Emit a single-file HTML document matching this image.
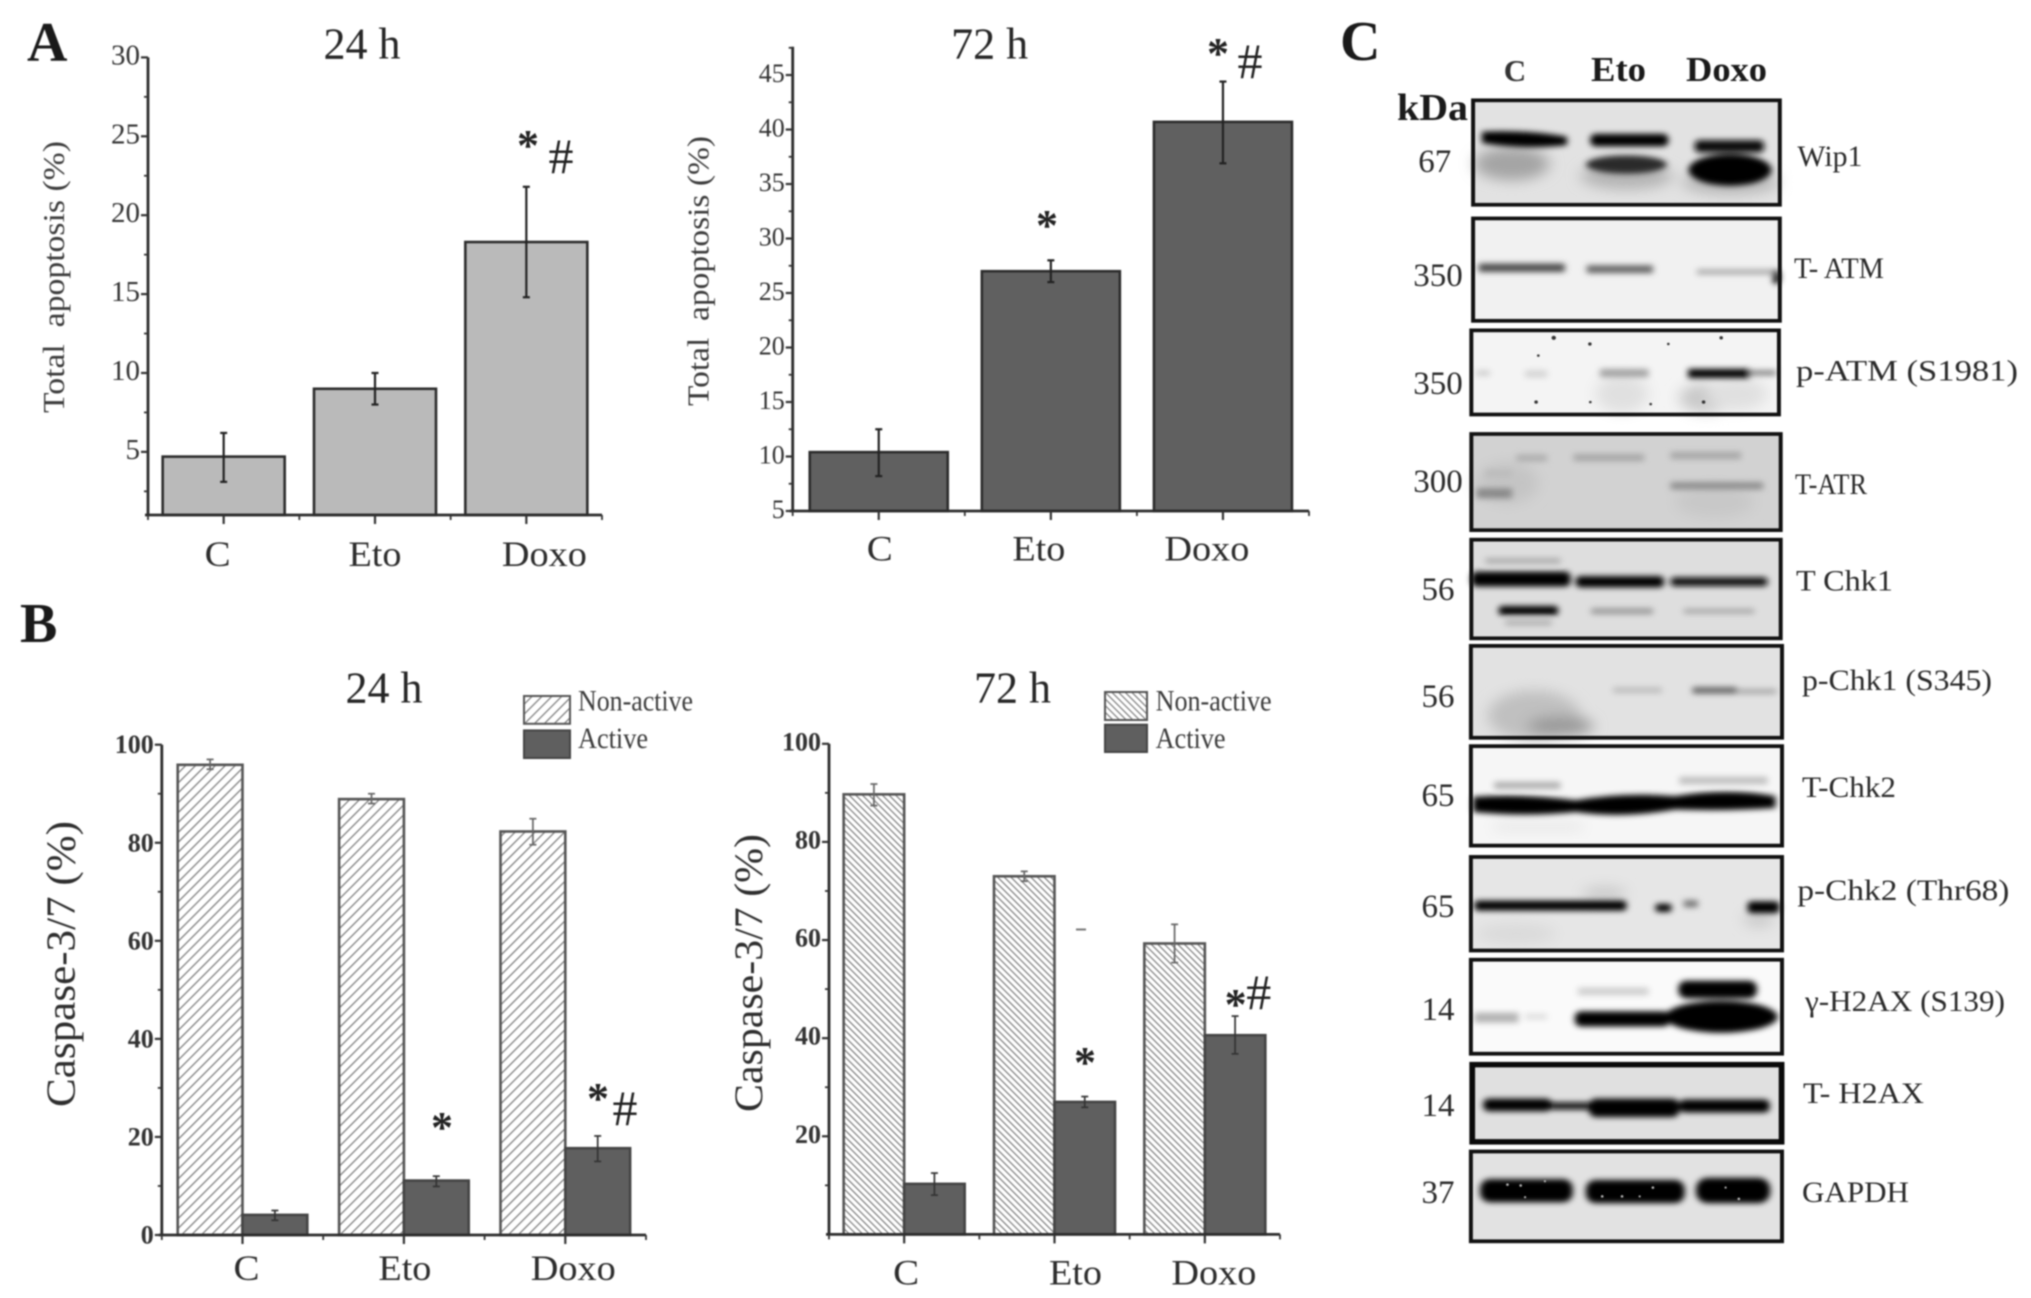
<!DOCTYPE html>
<html lang="en">
<head>
<meta charset="utf-8">
<title>Apoptosis, caspase-3/7 and western blot figure</title>
<style>
html,body{margin:0;padding:0;background:#fff;}
svg{display:block;filter:blur(0.7px);}
text{font-family:"Liberation Serif","DejaVu Serif",serif;fill:#262626;}
.blot-label{font-size:30px;fill:#2a2a2a;}
.kda{font-size:33px;fill:#2a2a2a;text-anchor:middle;}
</style>
</head>
<body>
<svg id="figure" xmlns="http://www.w3.org/2000/svg" width="2031" height="1298" viewBox="0 0 2031 1298">
<defs>
<pattern id="hatch-right" width="7" height="7" patternUnits="userSpaceOnUse" patternTransform="rotate(45)">
<rect width="7" height="7" fill="#fff"/><line x1="0" y1="0" x2="0" y2="7" stroke="#777" stroke-width="2.4"/>
</pattern>
<pattern id="hatch-left" width="4.7" height="4.7" patternUnits="userSpaceOnUse" patternTransform="rotate(-45)">
<rect width="4.7" height="4.7" fill="#fff"/><line x1="0" y1="0" x2="0" y2="4.7" stroke="#777" stroke-width="2.3"/>
</pattern>
<filter id="soft" x="-30%" y="-100%" width="160%" height="300%"><feGaussianBlur stdDeviation="7"/></filter>
<filter id="soft-wide" x="-50%" y="-100%" width="200%" height="300%"><feGaussianBlur stdDeviation="16"/></filter>
</defs>

<rect width="2031" height="1298" fill="#fff"/>

<text x="27" y="61" font-size="56" font-weight="bold" style="fill:#1a1a1a">A</text>
<text x="20" y="642" font-size="56" font-weight="bold" style="fill:#1a1a1a">B</text>
<text x="1340" y="60" font-size="56" font-weight="bold" style="fill:#1a1a1a">C</text>

<text x="362" y="58.5" font-size="44" text-anchor="middle">24 h</text>
<text x="989.6" y="58.5" font-size="44" text-anchor="middle">72 h</text>
<text x="384" y="702.4" font-size="44" text-anchor="middle">24 h</text>
<text x="1012.5" y="702.4" font-size="44" text-anchor="middle">72 h</text>

<text transform="translate(64,277) rotate(-90)" font-size="31" text-anchor="middle" textLength="272" lengthAdjust="spacingAndGlyphs" xml:space="preserve" style="fill:#3c3c3c">Total&#160; apoptosis (%)</text>
<text transform="translate(708.6,271) rotate(-90)" font-size="31" text-anchor="middle" textLength="270" lengthAdjust="spacingAndGlyphs" xml:space="preserve" style="fill:#3c3c3c">Total&#160; apoptosis (%)</text>
<text transform="translate(74.6,964) rotate(-90)" font-size="41" text-anchor="middle" textLength="286" lengthAdjust="spacingAndGlyphs" style="fill:#2e2e2e">Caspase-3/7 (%)</text>
<text transform="translate(762,973) rotate(-90)" font-size="40" text-anchor="middle" textLength="278" lengthAdjust="spacingAndGlyphs" style="fill:#2e2e2e">Caspase-3/7 (%)</text>

<g>
<rect x="524" y="696" width="46" height="27.8" fill="url(#hatch-right)" stroke="#555" stroke-width="2"/>
<rect x="524" y="730.4" width="46" height="27.6" fill="#5f5f5f" stroke="#444" stroke-width="2"/>
<text x="578" y="710.4" font-size="30" textLength="115" lengthAdjust="spacingAndGlyphs" style="fill:#3c3c3c">Non-active</text>
<text x="578" y="748" font-size="30" textLength="70" lengthAdjust="spacingAndGlyphs" style="fill:#3c3c3c">Active</text>
</g>
<g>
<rect x="1105" y="692" width="42" height="28" fill="url(#hatch-left)" stroke="#555" stroke-width="2"/>
<rect x="1105" y="724.7" width="42" height="27.3" fill="#5f5f5f" stroke="#444" stroke-width="2"/>
<text x="1155.6" y="710.4" font-size="30" textLength="116" lengthAdjust="spacingAndGlyphs" style="fill:#3c3c3c">Non-active</text>
<text x="1155.6" y="748" font-size="30" textLength="70" lengthAdjust="spacingAndGlyphs" style="fill:#3c3c3c">Active</text>
</g>

<g id="charts"></g>

<rect x="1076" y="928.5" width="10" height="2" fill="#777"/>

<!-- Western blot panels, upper half -->
<g transform="translate(1340,0) scale(.4407,.4145)">
  <g>
    <rect x="302" y="242" width="696" height="252" fill="#e2e2e2"/>
    <g filter="url(#soft-wide)"><ellipse cx="390" cy="395" rx="85" ry="40" fill="#a4a4a4"/><ellipse cx="650" cy="425" rx="105" ry="32" fill="#b4b4b4"/><ellipse cx="885" cy="440" rx="110" ry="30" fill="#b8b8b8"/></g>
    <g filter="url(#soft)">
      <path d="M322 318 Q420 312 515 330 L515 350 Q420 362 322 345 Z" fill="#000"/>
      <rect x="568" y="323" width="177" height="30" rx="12" fill="#000"/>
      <rect x="805" y="338" width="157" height="30" rx="10" fill="#0a0a0a"/>
      <ellipse cx="650" cy="397" rx="92" ry="22" fill="#2a2a2a"/>
      <ellipse cx="885" cy="410" rx="94" ry="38" fill="#000"/>
    </g>
    <rect x="302" y="242" width="696" height="252" fill="none" stroke="#111" stroke-width="9"/>
  </g>
  <g>
    <rect x="302" y="527" width="696" height="247" fill="#f1f1f1"/>
    <g filter="url(#soft)">
      <rect x="315" y="636" width="195" height="20" fill="#4a4a4a"/>
      <rect x="560" y="640" width="150" height="19" fill="#666"/>
      <rect x="810" y="649" width="180" height="14" fill="#b0b0b0"/>
      <ellipse cx="990" cy="668" rx="9" ry="18" fill="#000"/>
    </g>
    <rect x="302" y="527" width="696" height="247" fill="none" stroke="#111" stroke-width="9"/>
  </g>
  <g>
    <rect x="298" y="797" width="698" height="203" fill="#f4f4f4"/>
    <g filter="url(#soft-wide)"><ellipse cx="830" cy="960" rx="60" ry="36" fill="#c8c8c8"/><ellipse cx="640" cy="950" rx="60" ry="46" fill="#e0e0e0"/><ellipse cx="900" cy="950" rx="70" ry="40" fill="#e0e0e0"/></g>
    <g filter="url(#soft)">
      <rect x="420" y="893" width="50" height="18" fill="#d5d5d5"/>
      <rect x="310" y="893" width="30" height="14" fill="#d0d0d0"/>
      <rect x="590" y="890" width="110" height="20" fill="#a4a4a4"/>
      <rect x="790" y="890" width="140" height="22" fill="#000"/>
      <rect x="930" y="893" width="60" height="13" fill="#888"/>
    </g>
    <g fill="#333"><circle cx="485" cy="815" r="5"/><circle cx="567" cy="830" r="4"/><circle cx="745" cy="830" r="3"/><circle cx="865" cy="815" r="4"/><circle cx="450" cy="858" r="3"/><circle cx="445" cy="970" r="4"/><circle cx="568" cy="970" r="3"/><circle cx="825" cy="970" r="4"/><circle cx="705" cy="975" r="3"/></g>
    <rect x="298" y="797" width="698" height="203" fill="none" stroke="#111" stroke-width="9"/>
  </g>
  <g>
    <rect x="298" y="1047" width="702" height="232" fill="#d2d2d2"/>
    <g filter="url(#soft-wide)"><ellipse cx="380" cy="1165" rx="70" ry="50" fill="#c4c4c4"/><ellipse cx="850" cy="1210" rx="90" ry="40" fill="#c8c8c8"/></g>
    <g filter="url(#soft)">
      <rect x="400" y="1096" width="70" height="18" fill="#b0b0b0"/>
      <rect x="530" y="1095" width="160" height="18" fill="#a8a8a8"/>
      <rect x="750" y="1090" width="160" height="18" fill="#a8a8a8"/>
      <rect x="310" y="1178" width="80" height="24" fill="#8a8a8a"/>
      <rect x="750" y="1163" width="210" height="18" fill="#909090"/>
      <rect x="330" y="1133" width="60" height="18" fill="#bcbcbc"/>
    </g>
    <rect x="298" y="1047" width="702" height="232" fill="none" stroke="#111" stroke-width="9"/>
  </g>
  <g>
    <rect x="298" y="1302" width="702" height="238" fill="#dedede"/>
    <g filter="url(#soft)">
      <rect x="298" y="1379" width="225" height="36" rx="12" fill="#000"/>
      <rect x="535" y="1390" width="200" height="27" rx="10" fill="#000"/>
      <rect x="750" y="1393" width="220" height="21" rx="8" fill="#111"/>
      <rect x="360" y="1462" width="135" height="22" rx="8" fill="#000"/>
      <rect x="570" y="1467" width="140" height="15" fill="#9c9c9c"/>
      <rect x="780" y="1468" width="160" height="13" fill="#acacac"/>
      <rect x="330" y="1346" width="170" height="14" fill="#aeaeae"/>
      <rect x="375" y="1496" width="105" height="13" fill="#b0b0b0"/>
    </g>
    <rect x="298" y="1302" width="702" height="238" fill="none" stroke="#111" stroke-width="9"/>
  </g>
</g>

<!-- Western blot panels, lower half -->
<g transform="translate(1340,640) scale(.4407,.4196)">
  <g>
    <rect x="297" y="14" width="706" height="219" fill="#e2e2e2"/>
    <g filter="url(#soft-wide)">
      <ellipse cx="440" cy="180" rx="105" ry="60" fill="#c0c0c0"/>
      <ellipse cx="500" cy="205" rx="75" ry="24" fill="#9a9a9a"/>
    </g>
    <g filter="url(#soft)">
      <rect x="620" y="112" width="110" height="15" fill="#c0c0c0"/>
      <rect x="800" y="112" width="100" height="16" fill="#6a6a6a"/>
      <rect x="900" y="116" width="90" height="13" fill="#acacac"/>
    </g>
    <rect x="297" y="14" width="706" height="219" fill="none" stroke="#111" stroke-width="9"/>
  </g>
  <g>
    <rect x="297" y="253" width="706" height="237" fill="#f6f6f6"/>
    <g filter="url(#soft-wide)"><rect x="350" y="435" width="200" height="20" fill="#e6e6e6"/></g>
    <g filter="url(#soft)">
      <rect x="350" y="338" width="150" height="17" fill="#b0b0b0"/>
      <rect x="770" y="326" width="200" height="18" fill="#c0c0c0"/>
      <path d="M302 374 Q420 366 535 382 Q640 362 760 372 Q880 352 988 372 L988 400 Q880 408 760 404 Q640 426 535 410 Q420 422 302 410 Z" fill="#000"/>
    </g>
    <rect x="297" y="253" width="706" height="237" fill="none" stroke="#111" stroke-width="9"/>
  </g>
  <g>
    <rect x="297" y="517" width="706" height="223" fill="#e6e6e6"/>
    <g filter="url(#soft-wide)"><ellipse cx="600" cy="605" rx="50" ry="18" fill="#cacaca"/><ellipse cx="950" cy="665" rx="35" ry="20" fill="#cacaca"/><ellipse cx="400" cy="700" rx="90" ry="25" fill="#dadada"/></g>
    <g filter="url(#soft)">
      <rect x="305" y="621" width="345" height="24" rx="8" fill="#000"/>
      <rect x="716" y="629" width="36" height="19" rx="6" fill="#000"/>
      <rect x="780" y="620" width="32" height="17" fill="#777"/>
      <rect x="925" y="623" width="72" height="28" rx="8" fill="#000"/>
    </g>
    <rect x="297" y="517" width="706" height="223" fill="none" stroke="#111" stroke-width="9"/>
  </g>
  <g>
    <rect x="297" y="762" width="706" height="224" fill="#fafafa"/>
    <g filter="url(#soft)">
      <rect x="305" y="888" width="100" height="24" fill="#b4b4b4"/>
      <rect x="420" y="890" width="50" height="15" fill="#e0e0e0"/>
      <rect x="540" y="828" width="160" height="19" fill="#d0d0d0"/>
      <rect x="533" y="885" width="215" height="36" rx="14" fill="#000"/>
      <ellipse cx="865" cy="898" rx="128" ry="38" fill="#000"/>
      <rect x="768" y="812" width="178" height="42" rx="18" fill="#000"/>
    </g>
    <rect x="297" y="762" width="706" height="224" fill="none" stroke="#111" stroke-width="9"/>
  </g>
  <g>
    <rect x="300" y="1012" width="702" height="184" fill="#e0e0e0"/>
    <g filter="url(#soft)">
      <rect x="325" y="1093" width="155" height="30" rx="12" fill="#000"/>
      <rect x="480" y="1102" width="85" height="17" fill="#111"/>
      <rect x="565" y="1093" width="205" height="44" rx="16" fill="#000"/>
      <rect x="770" y="1095" width="205" height="31" rx="12" fill="#000"/>
    </g>
    <rect x="300" y="1012" width="702" height="184" fill="none" stroke="#0a0a0a" stroke-width="13"/>
  </g>
  <g>
    <rect x="297" y="1219" width="706" height="214" fill="#e2e2e2"/>
    <g filter="url(#soft)">
      <rect x="318" y="1285" width="210" height="55" rx="22" fill="#000"/>
      <rect x="558" y="1287" width="224" height="55" rx="22" fill="#000"/>
      <rect x="808" y="1282" width="168" height="60" rx="26" fill="#000"/>
    </g>
    <g fill="#bbb"><circle cx="380" cy="1298" r="3"/><circle cx="410" cy="1300" r="3"/><circle cx="465" cy="1290" r="2.5"/><circle cx="420" cy="1328" r="2.5"/><circle cx="595" cy="1326" r="3"/><circle cx="640" cy="1326" r="3"/><circle cx="710" cy="1305" r="3"/><circle cx="680" cy="1326" r="2.5"/><circle cx="875" cy="1305" r="2.5"/><circle cx="905" cy="1332" r="3"/></g>
    <rect x="297" y="1219" width="706" height="214" fill="none" stroke="#111" stroke-width="9"/>
  </g>
</g>

<g>
<text x="1515" y="81" font-size="31" font-weight="bold" text-anchor="middle" style="fill:#333">C</text>
<text x="1618.5" y="81" font-size="35" font-weight="bold" text-anchor="middle" textLength="55" lengthAdjust="spacingAndGlyphs" style="fill:#1a1a1a">Eto</text>
<text x="1726.5" y="81" font-size="35" font-weight="bold" text-anchor="middle" textLength="81" lengthAdjust="spacingAndGlyphs" style="fill:#1a1a1a">Doxo</text>
<text x="1397" y="120" font-size="38" font-weight="bold" textLength="71" lengthAdjust="spacingAndGlyphs" style="fill:#1a1a1a">kDa</text>
</g>

<g>
<text class="kda" x="1434.7" y="172">67</text>
<text class="kda" x="1438" y="286">350</text>
<text class="kda" x="1438" y="394">350</text>
<text class="kda" x="1438" y="492">300</text>
<text class="kda" x="1438" y="600">56</text>
<text class="kda" x="1438" y="707">56</text>
<text class="kda" x="1438" y="806">65</text>
<text class="kda" x="1438" y="917">65</text>
<text class="kda" x="1438" y="1020">14</text>
<text class="kda" x="1438" y="1116">14</text>
<text class="kda" x="1438" y="1203">37</text>
</g>

<g>
<text class="blot-label" x="1797.4" y="166" textLength="65" lengthAdjust="spacingAndGlyphs">Wip1</text>
<text class="blot-label" x="1794" y="278" textLength="90" lengthAdjust="spacingAndGlyphs">T- ATM</text>
<text class="blot-label" x="1796" y="380.5" textLength="222" lengthAdjust="spacingAndGlyphs">p-ATM (S1981)</text>
<text class="blot-label" x="1795" y="494" textLength="72" lengthAdjust="spacingAndGlyphs">T-ATR</text>
<text class="blot-label" x="1796" y="590.6" textLength="97" lengthAdjust="spacingAndGlyphs">T Chk1</text>
<text class="blot-label" x="1802" y="690" textLength="190" lengthAdjust="spacingAndGlyphs">p-Chk1 (S345)</text>
<text class="blot-label" x="1802" y="797" textLength="94" lengthAdjust="spacingAndGlyphs">T-Chk2</text>
<text class="blot-label" x="1797.4" y="900" textLength="212" lengthAdjust="spacingAndGlyphs">p-Chk2 (Thr68)</text>
<text class="blot-label" x="1805" y="1011" textLength="200" lengthAdjust="spacingAndGlyphs">γ-H2AX (S139)</text>
<text class="blot-label" x="1803" y="1103" textLength="121" lengthAdjust="spacingAndGlyphs">T- H2AX</text>
<text class="blot-label" x="1802" y="1202" textLength="107" lengthAdjust="spacingAndGlyphs">GAPDH</text>
</g>
</svg>

<script>
// ---- chart data ----
const categories = ['C', 'Eto', 'Doxo'];

const apoptosis24Values = [4.7, 9.0, 18.3];
const apoptosis24ErrLow = [3.1, 8.0, 14.8];
const apoptosis24ErrHigh = [6.2, 10.0, 21.8];
const apoptosis24Ticks = [5, 10, 15, 20, 25, 30];

const apoptosis72Values = [10.4, 27.0, 40.7];
const apoptosis72ErrLow = [8.2, 26.0, 36.9];
const apoptosis72ErrHigh = [12.5, 28.0, 44.4];
const apoptosis72Ticks = [5, 10, 15, 20, 25, 30, 35, 40, 45];

const caspase24NonActive = [95.9, 88.9, 82.3];
const caspase24NonActiveErrLow = [95.0, 88.0, 79.6];
const caspase24NonActiveErrHigh = [97.0, 90.0, 84.9];
const caspase24Active = [4.1, 11.1, 17.7];
const caspase24ActiveErrLow = [3.0, 9.9, 15.0];
const caspase24ActiveErrHigh = [5.0, 12.0, 20.2];
const caspase24Ticks = [0, 20, 40, 60, 80, 100];

const caspase72NonActive = [89.7, 73.0, 59.3];
const caspase72NonActiveErrLow = [87.4, 72.0, 55.4];
const caspase72NonActiveErrHigh = [91.8, 74.0, 63.2];
const caspase72Active = [10.3, 27.0, 40.6];
const caspase72ActiveErrLow = [8.0, 25.9, 36.8];
const caspase72ActiveErrHigh = [12.5, 28.1, 44.5];
const caspase72Ticks = [20, 40, 60, 80, 100];

// ---- helpers ----
const SVG_NS = 'http://www.w3.org/2000/svg';
const root = document.getElementById('charts');

function make(tag, name, parent, attrs) {
  const el = document.createElementNS(SVG_NS, tag);
  
  
  for (const k in attrs) el.setAttribute(k, attrs[k]);
  parent.appendChild(el);
  return el;
}
function line(name, parent, x1, y1, x2, y2, color, width) {
  return make('line', name, parent, { x1: x1, y1: y1, x2: x2, y2: y2, stroke: color, 'stroke-width': width });
}
function label(name, parent, x, y, str, attrs, color) {
  const el = make('text', name, parent, Object.assign({ x: x, y: y }, attrs));
  el.textContent = str;
  if (color) el.style.fill = color;
  return el;
}
function linearScale(d0, d1, r0, r1) {
  return function (v) { return r0 + (v - d0) * (r1 - r0) / (d1 - d0); };
}

function drawAxes(g, cfg, y) {
  const bottom = y(cfg.domain[0]);
  const top = y(cfg.domain[1]);
  line('y-axis-line', g, cfg.x0, top, cfg.x0, bottom + 1, '#2c2c2c', 2.8);
  line('x-axis-line', g, cfg.x0 - 3, bottom, cfg.x1, bottom, '#2c2c2c', 2.8);

  const step = cfg.ticks[1] - cfg.ticks[0];
  cfg.ticks.forEach(function (t) {
    line('y-tick-' + t, g, cfg.x0 - 7, y(t), cfg.x0, y(t), '#333', 2.2);
    label('y-tick-label-' + t, g, cfg.x0 - 8, y(t) + cfg.tickBaseline, String(t),
      { 'font-size': cfg.tickSize, 'font-weight': cfg.tickWeight, 'text-anchor': 'end' }, '#333');
  });
  for (let m = cfg.ticks[0] - step / 2; m <= cfg.domain[1]; m += step) {
    if (m < cfg.domain[0]) continue;
    line('y-minor-tick', g, cfg.x0 - 4, y(m), cfg.x0, y(m), '#333', 1.8);
  }

  const band = (cfg.x1 - cfg.x0) / categories.length;
  for (let i = 0; i <= categories.length; i++) {
    line('x-minor-tick', g, cfg.x0 + i * band, bottom, cfg.x0 + i * band, bottom + 5, '#333', 1.8);
  }
  categories.forEach(function (c, i) {
    const cx = cfg.x0 + (i + 0.5) * band;
    line('x-tick-' + c, g, cx, bottom, cx, bottom + 9, '#333', 2.2);
    label('x-tick-label-' + c, g, cx + cfg.labelDx[i], cfg.labelY, c,
      { 'font-size': cfg.labelSize, 'text-anchor': 'middle', textLength: cfg.labelLen[i], lengthAdjust: 'spacingAndGlyphs' }, '#2c2c2c');
  });
  return band;
}

function drawError(g, name, cx, y, lo, hi, color, width) {
  line(name + '-stem', g, cx, y(lo), cx, y(hi), color, width);
  line(name + '-cap-high', g, cx - 3.5, y(hi), cx + 3.5, y(hi), color, width);
  line(name + '-cap-low', g, cx - 3.5, y(lo), cx + 3.5, y(lo), color, width);
}

function drawBar(g, name, x, w, y, base, v, fill, stroke) {
  return make('rect', name, g, {
    x: x, y: y(v), width: w, height: y(base) - y(v),
    fill: fill, stroke: stroke, 'stroke-width': 2.6
  });
}

function drawMarks(g, marks) {
  marks.forEach(function (m) {
    const isStar = m.s === '*';
    label(isStar ? 'significance-asterisk' : 'significance-hash', g, m.x, m.y, m.s,
      { 'font-size': isStar ? 44 : 50, 'font-weight': isStar ? 'bold' : 'normal', 'text-anchor': 'middle' }, '#222');
  });
}

function singleSeriesChart(cfg, values, errLow, errHigh) {
  const g = make('g', cfg.name, root, {});
  const y = linearScale(cfg.domain[0], cfg.domain[1], cfg.yBottom, cfg.yTop);
  const band = (cfg.x1 - cfg.x0) / categories.length;
  values.forEach(function (v, i) {
    const cx = cfg.x0 + (i + 0.5) * band;
    drawBar(g, 'bar-' + categories[i], cx - cfg.barW / 2, cfg.barW, y, cfg.domain[0], v, cfg.fill, '#2c2c2c');
    drawError(g, 'error-bar-' + categories[i], cx, y, errLow[i], errHigh[i], '#222', 2.2);
  });
  drawAxes(g, cfg, y);
  drawMarks(g, cfg.marks);
}

function groupedChart(cfg, nonActive, naLow, naHigh, active, acLow, acHigh) {
  const g = make('g', cfg.name, root, {});
  const y = linearScale(cfg.domain[0], cfg.domain[1], cfg.yBottom, cfg.yTop);
  const band = (cfg.x1 - cfg.x0) / categories.length;
  categories.forEach(function (c, i) {
    const cx = cfg.x0 + (i + 0.5) * band;
    drawBar(g, 'bar-non-active-' + c, cx - cfg.barW, cfg.barW, y, cfg.domain[0], nonActive[i], cfg.hatch, '#555');
    drawBar(g, 'bar-active-' + c, cx, cfg.barW, y, cfg.domain[0], active[i], '#5f5f5f', '#444');
    drawError(g, 'error-bar-non-active-' + c, cx - cfg.barW / 2, y, naLow[i], naHigh[i], '#666', 1.7);
    drawError(g, 'error-bar-active-' + c, cx + cfg.barW / 2, y, acLow[i], acHigh[i], '#333', 1.7);
  });
  drawAxes(g, cfg, y);
  drawMarks(g, cfg.marks);
}

// ---- draw ----
singleSeriesChart({
  name: 'chart-a-24h', x0: 148, x1: 602, yBottom: 515, yTop: 57.4, domain: [1, 30], barW: 122,
  fill: '#bababa', ticks: apoptosis24Ticks, tickSize: 29, tickWeight: 'normal', tickBaseline: 7,
  labelDx: [-6, 0, 18], labelY: 566, labelSize: 36, labelLen: [26, 53, 85],
  marks: [{ s: '*', x: 528, y: 160 }, { s: '#', x: 561, y: 173 }]
}, apoptosis24Values, apoptosis24ErrLow, apoptosis24ErrHigh);

singleSeriesChart({
  name: 'chart-a-72h', x0: 792.7, x1: 1309, yBottom: 511, yTop: 46.7, domain: [5, 47.6], barW: 138,
  fill: '#606060', ticks: apoptosis72Ticks, tickSize: 26, tickWeight: 'normal', tickBaseline: 7,
  labelDx: [1, -12, -16], labelY: 560.6, labelSize: 36, labelLen: [26, 53, 85],
  marks: [{ s: '*', x: 1047, y: 240 }, { s: '*', x: 1218, y: 68 }, { s: '#', x: 1250, y: 78 }]
}, apoptosis72Values, apoptosis72ErrLow, apoptosis72ErrHigh);

groupedChart({
  name: 'chart-b-24h', x0: 161.8, x1: 646, yBottom: 1235, yTop: 744.7, domain: [0, 100], barW: 64.8,
  hatch: 'url(#hatch-right)', ticks: caspase24Ticks, tickSize: 26, tickWeight: 'bold', tickBaseline: 8.5,
  labelDx: [4, 1, 8], labelY: 1280, labelSize: 36, labelLen: [26, 53, 85],
  marks: [{ s: '*', x: 442, y: 1142 }, { s: '*', x: 598, y: 1113 }, { s: '#', x: 625, y: 1125 }]
}, caspase24NonActive, caspase24NonActiveErrLow, caspase24NonActiveErrHigh, caspase24Active, caspase24ActiveErrLow, caspase24ActiveErrHigh);

groupedChart({
  name: 'chart-b-72h', x0: 829, x1: 1280, yBottom: 1234.4, yTop: 743.8, domain: [0, 100], barW: 60.5,
  hatch: 'url(#hatch-left)', ticks: caspase72Ticks, tickSize: 26, tickWeight: 'bold', tickBaseline: 6.5,
  labelDx: [2, 21, 9], labelY: 1284.7, labelSize: 36, labelLen: [26, 53, 85],
  marks: [{ s: '*', x: 1085, y: 1077 }, { s: '*', x: 1235.6, y: 1019 }, { s: '#', x: 1258.7, y: 1009 }]
}, caspase72NonActive, caspase72NonActiveErrLow, caspase72NonActiveErrHigh, caspase72Active, caspase72ActiveErrLow, caspase72ActiveErrHigh);
</script>
</body>
</html>
